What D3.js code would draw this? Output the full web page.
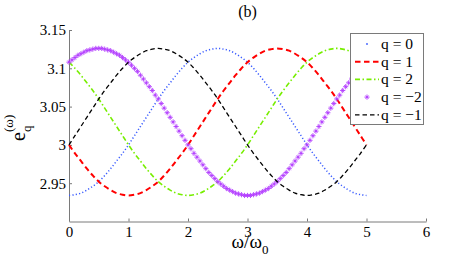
<!DOCTYPE html>
<html><head><meta charset="utf-8">
<script src="https://cdn.jsdelivr.net/npm/d3@7"></script>
<style>
html,body{margin:0;padding:0;background:#fff;}
</style></head>
<body><svg id="c" width="471" height="262"></svg>
<script>
// ---- data ----
const xTicks = [0, 1, 2, 3, 4, 5, 6];
const yTicks = [2.95, 3, 3.05, 3.1, 3.15];
const xStepLines = 0.1;   // sample spacing of the line series
const xStepMarkers = 0.05; // sample spacing of the marker series
const q0 = [2.934,2.935,2.937,2.941,2.946,2.952,2.960,2.969,2.979,2.989,3.000,3.012,3.024,3.036,3.048,3.060,3.071,3.081,3.091,3.100,3.108,3.114,3.119,3.123,3.125,3.126,3.125,3.123,3.119,3.114,3.108,3.100,3.091,3.081,3.071,3.060,3.048,3.036,3.024,3.012,3.000,2.989,2.979,2.969,2.960,2.952,2.946,2.941,2.937,2.935,2.934];
const q1 = [3.000,2.989,2.979,2.969,2.960,2.952,2.946,2.941,2.937,2.935,2.934,2.935,2.937,2.941,2.946,2.952,2.960,2.969,2.979,2.989,3.000,3.012,3.024,3.036,3.048,3.060,3.071,3.081,3.091,3.100,3.108,3.114,3.119,3.123,3.125,3.126,3.125,3.123,3.119,3.114,3.108,3.100,3.091,3.081,3.071,3.060,3.048,3.036,3.024,3.012,3.000];
const q2 = [3.108,3.100,3.091,3.081,3.071,3.060,3.048,3.036,3.024,3.012,3.000,2.989,2.979,2.969,2.960,2.952,2.946,2.941,2.937,2.935,2.934,2.935,2.937,2.941,2.946,2.952,2.960,2.969,2.979,2.989,3.000,3.012,3.024,3.036,3.048,3.060,3.071,3.081,3.091,3.100,3.108,3.114,3.119,3.123,3.125,3.126,3.125,3.123,3.119,3.114,3.108];
const qm1 = [3.000,3.012,3.024,3.036,3.048,3.060,3.071,3.081,3.091,3.100,3.108,3.114,3.119,3.123,3.125,3.126,3.125,3.123,3.119,3.114,3.108,3.100,3.091,3.081,3.071,3.060,3.048,3.036,3.024,3.012,3.000,2.989,2.979,2.969,2.960,2.952,2.946,2.941,2.937,2.935,2.934,2.935,2.937,2.941,2.946,2.952,2.960,2.969,2.979,2.989,3.000];
const qm2 = [3.108,3.111,3.114,3.117,3.119,3.121,3.123,3.124,3.125,3.126,3.126,3.126,3.125,3.124,3.123,3.121,3.119,3.117,3.114,3.111,3.108,3.104,3.100,3.096,3.091,3.086,3.081,3.076,3.071,3.065,3.060,3.054,3.048,3.042,3.036,3.030,3.024,3.018,3.012,3.006,3.000,2.995,2.989,2.984,2.979,2.974,2.969,2.964,2.960,2.956,2.952,2.949,2.946,2.943,2.941,2.939,2.937,2.936,2.935,2.934,2.934,2.934,2.935,2.936,2.937,2.939,2.941,2.943,2.946,2.949,2.952,2.956,2.960,2.964,2.969,2.974,2.979,2.984,2.989,2.995,3.000,3.006,3.012,3.018,3.024,3.030,3.036,3.042,3.048,3.054,3.060,3.065,3.071,3.076,3.081,3.086,3.091,3.096,3.100,3.104,3.108];
const legendLabels = ["q = 0", "q = 1", "q = 2", "q = \u22122", "q = \u22121"];

// ---- drawing ----
const FONT = "'Liberation Serif', 'DejaVu Serif', serif";
const svg = d3.select("#c");
const x = d3.scaleLinear().domain([0, 6]).range([69, 426]);
const y = d3.scaleLinear().domain([2.9, 3.15]).range([221.5, 30]);
const axisColor = "#7a7a7a";

const gx = svg.append("g").attr("transform", `translate(0,${y(2.9)})`)
  .call(d3.axisBottom(x).tickValues(xTicks).tickFormat(d3.format("d")).tickSizeInner(-3).tickSizeOuter(0).tickPadding(5));
const gy = svg.append("g").attr("transform", `translate(${x(0)},0)`)
  .call(d3.axisLeft(y).tickValues(yTicks).tickFormat(d => String(+d.toFixed(2))).tickSizeInner(-3).tickSizeOuter(0).tickPadding(3));
[gx, gy].forEach(g => {
  g.attr("font-family", FONT);
  g.select(".domain").attr("stroke", axisColor);
  g.selectAll(".tick line").attr("stroke", axisColor);
  g.selectAll(".tick text").attr("font-size", 15).attr("fill", "#000");
});
gy.select(".domain").attr("d", `M0.5,${y(2.9)}V${y(3.15)}`);

const line = d3.line().x(d => x(d[0])).y(d => y(d[1])).curve(d3.curveCatmullRom);
const pts = (arr, step) => arr.map((v, i) => [i * step, v]);

const styles = [
  {data: q0, step: xStepLines, color: "#3a5cff", w: 1.5, dash: "1.2,2.2"},
  {data: q1, step: xStepLines, color: "#ff0000", w: 2, dash: "5.5,3.5"},
  {data: q2, step: xStepLines, color: "#77ee00", w: 1.6, dash: "5,2.5,1.5,2.5"},
  {data: qm2, step: xStepMarkers, color: "#b23cff", marker: true},
  {data: qm1, step: xStepLines, color: "#000000", w: 1.3, dash: "4.5,3"}
];

function star(g, cx, cy, r, color) {
  g.append("path")
    .attr("d", `M${cx - r},${cy}H${cx + r}M${cx},${cy - r}V${cy + r}M${cx - r * 0.6},${cy - r * 0.6}L${cx + r * 0.6},${cy + r * 0.6}M${cx - r * 0.6},${cy + r * 0.6}L${cx + r * 0.6},${cy - r * 0.6}`)
    .attr("stroke", color).attr("stroke-width", 0.9).attr("fill", "none");
}

const plot = svg.append("g");
styles.forEach(s => {
  if (s.marker) {
    const mg = plot.append("g");
    pts(s.data, s.step).forEach(p => star(mg, x(p[0]), y(p[1]), 2.6, s.color));
  } else {
    plot.append("path").attr("d", line(pts(s.data, s.step)))
      .attr("fill", "none").attr("stroke", s.color).attr("stroke-width", s.w)
      .attr("stroke-dasharray", s.dash);
  }
});

// legend
const lg = svg.append("g");
lg.append("rect").attr("x", 350.5).attr("y", 33.5).attr("width", 73).attr("height", 91)
  .attr("fill", "#fff").attr("stroke", axisColor).attr("stroke-width", 1);
styles.forEach((s, i) => {
  const cy = 44 + i * 17.7;
  if (s.marker) {
    star(lg, 367, cy, 2.6, s.color);
  } else if (s.dash.startsWith("1.2")) {
    lg.append("circle").attr("cx", 367).attr("cy", cy).attr("r", 0.9).attr("fill", s.color);
  } else {
    lg.append("line").attr("x1", 355).attr("x2", 379).attr("y1", cy).attr("y2", cy)
      .attr("stroke", s.color).attr("stroke-width", s.w).attr("stroke-dasharray", s.dash);
  }
  lg.append("text").attr("x", 381).attr("y", cy + 5).attr("font-size", 15.5).text(legendLabels[i]);
});

// title
svg.append("text").attr("x", 247.5).attr("y", 17).attr("text-anchor", "middle").attr("font-size", 16).text("(b)");

// x label
const xl = svg.append("text").attr("x", 250).attr("y", 248).attr("text-anchor", "middle").attr("font-size", 19);
xl.append("tspan").text("\u03c9/\u03c9");
xl.append("tspan").attr("font-size", 13).attr("dy", 6).text("0");

// y label
const yl = svg.append("g").attr("transform", "translate(25,141) rotate(-90)");
yl.append("text").attr("x", 0).attr("y", 0).attr("font-size", 20).text("e");
yl.append("text").attr("x", 9).attr("y", 6).attr("font-size", 13).text("q");
yl.append("text").attr("x", 9).attr("y", -12).attr("font-size", 13).text("(\u03c9)");

// apply the serif face to every text as an inline style
svg.selectAll("text").style("font-family", FONT).attr("font-family", FONT);
</script></body></html>
